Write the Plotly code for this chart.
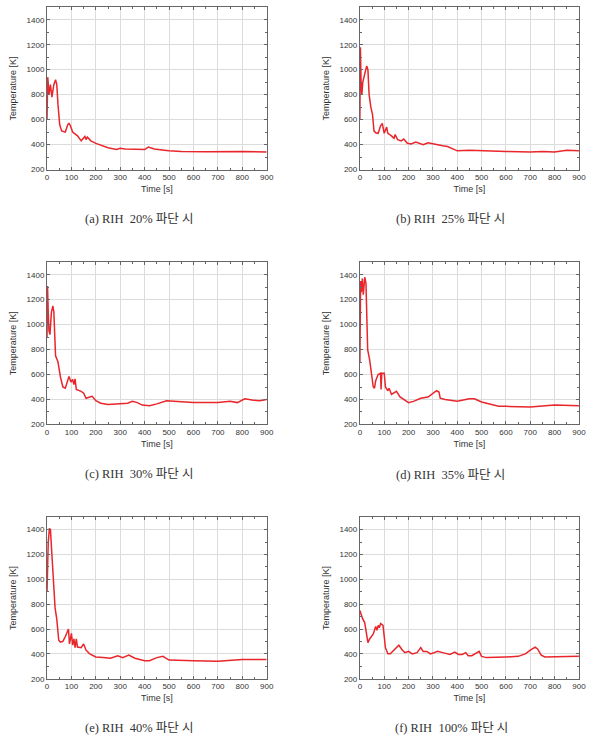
import plotly.graph_objects as go

# ---- data ----
t_a = [0, 3, 8, 14, 20, 28, 35, 40, 45, 52, 60, 75, 85, 90, 95, 105, 125, 140, 155, 160, 165, 180, 200, 225, 250, 285, 300, 320, 360, 400, 415, 440, 480, 500, 550, 650, 800, 900]
T_a = [600, 940, 800, 880, 780, 880, 920, 880, 720, 560, 510, 500, 560, 570, 555, 500, 470, 430, 465, 440, 460, 430, 410, 390, 375, 360, 370, 365, 362, 360, 380, 365, 355, 350, 345, 342, 345, 340]

t_b = [0, 2, 5, 8, 12, 20, 28, 33, 38, 45, 52, 58, 65, 75, 85, 92, 100, 110, 115, 130, 140, 145, 155, 170, 180, 195, 210, 230, 245, 260, 280, 300, 320, 340, 360, 380, 400, 450, 500, 550, 600, 700, 750, 800, 850, 900]
T_b = [600, 1180, 900, 800, 900, 980, 1030, 1000, 800, 700, 640, 510, 495, 490, 550, 570, 490, 540, 490, 470, 450, 480, 440, 430, 445, 410, 405, 420, 410, 400, 415, 405, 400, 390, 385, 370, 350, 355, 350, 345, 345, 340, 345, 340, 355, 350]

t_c = [0, 2, 5, 8, 12, 18, 24, 28, 35, 45, 55, 65, 75, 85, 90, 98, 105, 110, 115, 120, 140, 150, 160, 175, 185, 200, 220, 250, 300, 330, 350, 370, 390, 420, 450, 490, 520, 550, 600, 700, 750, 780, 810, 840, 870, 900]
T_c = [900, 1310, 1100, 950, 920, 1100, 1150, 1100, 750, 700, 580, 500, 490, 560, 585, 540, 560, 520, 565, 480, 465, 450, 410, 420, 425, 390, 370, 360, 365, 370, 385, 375, 355, 350, 365, 390, 385, 380, 375, 375, 385, 375, 405, 395, 390, 400]

t_d = [0, 3, 6, 10, 14, 20, 25, 32, 40, 48, 55, 60, 65, 75, 85, 87, 90, 100, 105, 115, 120, 130, 150, 165, 180, 200, 220, 250, 280, 300, 315, 325, 330, 350, 380, 400, 450, 470, 500, 540, 570, 600, 700, 800, 900]
T_d = [700, 1350, 1260, 1370, 1240, 1380, 1330, 800, 720, 600, 500, 490, 550, 600, 610, 480, 610, 610, 500, 470, 490, 440, 465, 420, 400, 375, 385, 410, 420, 445, 470, 460, 410, 400, 390, 385, 405, 405, 380, 360, 345, 345, 340, 355, 350]

t_e = [0, 5, 10, 14, 20, 28, 33, 40, 48, 55, 65, 75, 85, 88, 92, 100, 105, 110, 115, 120, 125, 140, 150, 160, 175, 200, 230, 260, 290, 310, 335, 360, 400, 420, 450, 475, 500, 550, 600, 700, 750, 800, 900]
T_e = [900, 1300, 1410, 1400, 1200, 900, 770, 680, 510, 495, 500, 540, 595, 600, 480, 565, 470, 520, 450, 520, 455, 450, 480, 430, 400, 375, 370, 365, 385, 370, 390, 365, 345, 345, 370, 380, 350, 345, 345, 340, 350, 355, 355]

t_f = [0, 5, 10, 20, 28, 33, 40, 55, 65, 70, 75, 80, 85, 95, 105, 115, 125, 145, 160, 175, 185, 200, 215, 235, 250, 260, 275, 290, 320, 340, 370, 390, 405, 420, 435, 445, 460, 490, 500, 520, 560, 600, 650, 680, 700, 720, 730, 745, 760, 800, 900]
T_f = [750, 720, 690, 650, 560, 490, 520, 560, 620, 590, 630, 610, 645, 630, 450, 400, 400, 440, 470, 430, 410, 420, 400, 410, 450, 420, 420, 400, 420, 410, 395, 415, 395, 395, 410, 385, 385, 420, 380, 370, 370, 375, 380, 400, 430, 455, 440, 390, 375, 375, 380]

captions = ["(a) RIH  20% 파단 시", "(b) RIH  25% 파단 시", "(c) RIH  30% 파단 시",
            "(d) RIH  35% 파단 시", "(e) RIH  40% 파단 시", "(f) RIH  100% 파단 시"]
series = [(t_a, T_a), (t_b, T_b), (t_c, T_c), (t_d, T_d), (t_e, T_e), (t_f, T_f)]

W, H = 603, 747
# pixel boxes: (left, right, top, bottom)
boxes = [(45.7, 268.7, 7.3, 170.7), (363.3, 585.7, 7.3, 170.7),
         (45.7, 268.7, 264, 427.3), (363.3, 585.7, 264, 427.3),
         (45.7, 268.7, 520.7, 683.3), (363.3, 585.7, 520.7, 683.3)]
cap_pos = [(139, 220), (455, 220), (139, 477), (455, 478), (139, 733), (456, 733)]

fig = go.Figure()
layout = dict(width=W, height=H, margin=dict(l=0, r=0, t=0, b=0),
              paper_bgcolor="white", plot_bgcolor="white", showlegend=False,
              font=dict(family="Liberation Sans, Arial, sans-serif", size=8, color="#333"))
annotations = []
tickfont = dict(family="Liberation Sans, Arial, sans-serif", size=8, color="#333")
for i, ((t, T), (l, r, tp, b)) in enumerate(zip(series, boxes)):
    n = "" if i == 0 else str(i + 1)
    fig.add_trace(go.Scatter(x=t, y=T, mode="lines", xaxis="x" + n, yaxis="y" + n,
                             line=dict(color="#e8262b", width=1.5)))
    layout["xaxis" + n] = dict(domain=[l / W, r / W], anchor="y" + n, range=[0, 900],
                               dtick=100, tick0=0, ticks="inside", ticklen=3, mirror="ticks",
                               showline=True, linecolor="#666", linewidth=1,
                               showgrid=True, gridcolor="#dcdcdc", gridwidth=1, zeroline=False,
                               tickfont=tickfont,
                               minor=dict(ticks="inside", ticklen=2, dtick=50, showgrid=False, tickcolor="#666"),
                               tickcolor="#666",
                               title=dict(text="Time [s]", font=dict(size=9, color="#333"), standoff=4))
    layout["yaxis" + n] = dict(domain=[1 - b / H, 1 - tp / H], anchor="x" + n, range=[200, 1500],
                               tickvals=[200, 400, 600, 800, 1000, 1200, 1400],
                               ticks="inside", ticklen=3, mirror="ticks",
                               showline=True, linecolor="#666", linewidth=1,
                               showgrid=True, gridcolor="#dcdcdc", gridwidth=1, zeroline=False,
                               tickfont=tickfont,
                               minor=dict(ticks="inside", ticklen=2, tickvals=[300, 500, 700, 900, 1100, 1300], showgrid=False, tickcolor="#666"),
                               tickcolor="#666",
                               title=dict(text="Temperature [K]", font=dict(size=9, color="#333"), standoff=8))
    cx, cy = cap_pos[i]
    annotations.append(dict(text=captions[i], x=cx / W, y=1 - cy / H, xref="paper", yref="paper",
                            xanchor="center", yanchor="middle", showarrow=False,
                            font=dict(family="Liberation Serif, Noto Sans CJK KR, serif", size=12.5, color="#333")))
layout["annotations"] = annotations
fig.update_layout(**layout)
fig.write_html("out.html")
